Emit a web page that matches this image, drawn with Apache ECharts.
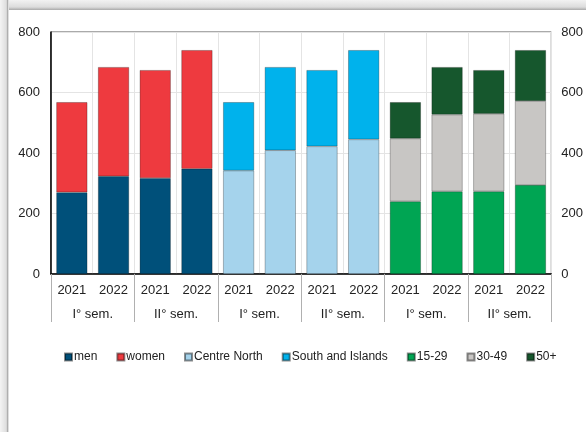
<!DOCTYPE html>
<html><head><meta charset="utf-8">
<script src="https://cdn.jsdelivr.net/npm/echarts@6/dist/echarts.min.js"></script>
<style>
html,body{margin:0;padding:0;background:#fff;}
#frameTop{position:absolute;left:0;top:0;width:586px;height:10px;background:linear-gradient(#f2f2f2,#dcdcdc 70%,#a9a9a9);}
#frameLeft{position:absolute;left:0;top:0;width:9px;height:432px;background:linear-gradient(to right,#f4f4f4,#dedede 70%,#a9a9a9 85%,#fff);}
#chart{position:absolute;left:0;top:0;width:586px;height:432px;}
</style></head>
<body>
<div id="frameTop"></div><div id="frameLeft"></div>
<div id="chart"></div>
<script>
const years = ['2021','2022','2021','2022','2021','2022','2021','2022','2021','2022','2021','2022'];
const semesters = ['I° sem.','II° sem.','I° sem.','II° sem.','I° sem.','II° sem.'];
const men = [270, 323, 317, 348];
const women = [298, 361, 357, 392];
const centreNorth = [342, 409, 422, 445];
const southIslands = [226, 275, 252, 295];
const age15_29 = [240, 273, 273, 294];
const age30_49 = [208, 254, 257, 278];
const age50plus = [120, 157, 144, 168];
const yTicks = [0, 200, 400, 600, 800];

function place(vals, group) {
  const out = new Array(12).fill('-');
  vals.forEach((v, i) => { out[group * 4 + i] = v; });
  return out;
}
const font = 'Liberation Sans, Arial, sans-serif';
const seriesDefs = [
  ['men', men, 0, '#00507a'],
  ['women', women, 0, '#ee3a3f'],
  ['Centre North', centreNorth, 1, '#a5d3ec'],
  ['South and Islands', southIslands, 1, '#00b2ec'],
  ['15-29', age15_29, 2, '#00a553'],
  ['30-49', age30_49, 2, '#c8c6c4'],
  ['50+', age50plus, 2, '#16572d']
];
const chart = echarts.init(document.getElementById('chart'));
const yAxisBase = {
  type: 'value', min: yTicks[0], max: yTicks[yTicks.length - 1], interval: 200,
  axisTick: { show: false },
  axisLabel: { fontSize: 13, color: '#222', fontFamily: font }
};
chart.setOption({
  animation: false,
  textStyle: { fontFamily: font },
  grid: { left: 51, right: 32, top: 32, bottom: 158, show: true, borderColor: '#555', borderWidth: 1 },
  legend: {
    left: 64, top: 351, padding: 0, width: 540, itemWidth: 7, itemHeight: 7, itemGap: 19, icon: 'rect',
    textStyle: { fontSize: 12, color: '#222', fontFamily: font, padding: [0, 0, 0, -3] },
    data: seriesDefs.map(d => d[0])
  },
  xAxis: [
    {
      type: 'category', data: years, position: 'bottom',
      axisLine: { lineStyle: { color: '#000', width: 1.5 } },
      axisTick: { show: false },
      axisLabel: { fontSize: 13, color: '#222', margin: 10, fontFamily: font },
      splitLine: { show: true, interval: 0, lineStyle: { color: '#e4e4e4' } }
    },
    {
      type: 'category', data: semesters, position: 'bottom',
      axisLine: { show: false },
      axisTick: { show: true, interval: 0, length: 48, lineStyle: { color: '#b0b0b0' } },
      axisLabel: { fontSize: 13, color: '#222', margin: 34, fontFamily: font, interval: 0 }
    }
  ],
  yAxis: [
    Object.assign({}, yAxisBase, {
      position: 'left',
      axisLine: { show: true, lineStyle: { color: '#000', width: 1.5 } },
      axisLabel: Object.assign({}, yAxisBase.axisLabel, { margin: 11 }),
      splitLine: { show: true, lineStyle: { color: '#e4e4e4' } }
    }),
    Object.assign({}, yAxisBase, {
      position: 'right',
      axisLine: { show: false },
      axisLabel: Object.assign({}, yAxisBase.axisLabel, { margin: 10 }),
      splitLine: { show: false }
    })
  ],
  series: seriesDefs.map(d => ({
    name: d[0], type: 'bar', stack: 'total', barWidth: 31,
    xAxisIndex: 0, yAxisIndex: 0,
    itemStyle: { color: d[3], borderColor: 'rgba(0,0,0,0.45)', borderWidth: 0.6 },
    data: place(d[1], d[2])
  }))
});
</script>
</body></html>
